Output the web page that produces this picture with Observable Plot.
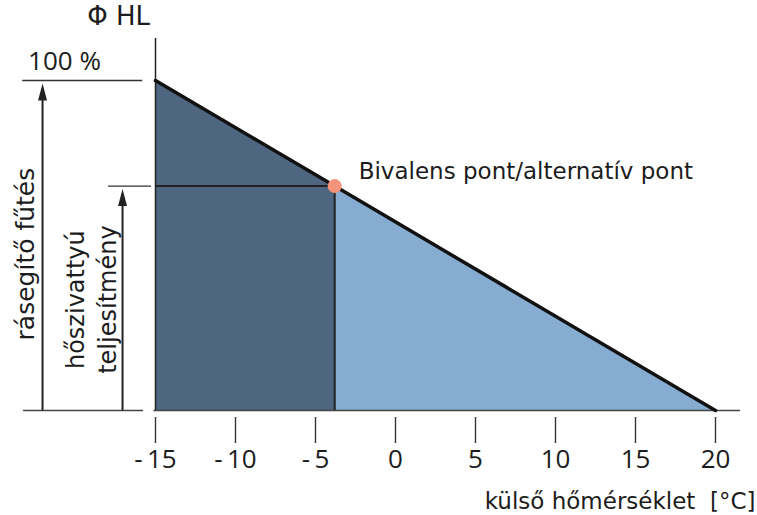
<!DOCTYPE html>
<html>
<head>
<meta charset="utf-8">
<script src="https://cdn.jsdelivr.net/npm/d3@7"></script>
<script src="https://cdn.jsdelivr.net/npm/@observablehq/plot@0.6"></script>
<style>
  html, body { margin: 0; padding: 0; background: #fff; }
  #chart svg { display: block; }
</style>
</head>
<body>
<div id="chart"></div>
<script>
// Data: outdoor temperature (°C) vs. heat load (% of design load)
const temps = [-15, -3.8, 20];
const loadPct = [100, 68, 0];
const bivalentIndex = 1;
const xTicks = [-15, -10, -5, 0, 5, 10, 15, 20];

// Texts
const yTitle = "Φ HL";
const topLabel = "100 %";
const pointLabel = "Bivalens pont/alternatív pont";
const auxLabel = "rásegítő fűtés";
const hpLabel = "hőszivattyú\nteljesítmény";
const xTitle = "külső hőmérséklet\u00a0 [°C]";

const rows = temps.map((t, i) => ({t, v: loadPct[i]}));
const darkPart = rows.slice(0, bivalentIndex + 1);
const lightPart = rows.slice(bivalentIndex);
const biv = rows[bivalentIndex];

const ink = "#1c1c1c";
const font = "'DejaVu Sans', sans-serif";
const numFont = "'Open Sans', sans-serif";

// filled, slender arrowhead (tip just below the anchor)
const arrowHead = {
  draw(ctx) {
    ctx.moveTo(0, 3);
    ctx.lineTo(4.5, 20);
    ctx.lineTo(-4.5, 20);
    ctx.closePath();
  }
};

const chart = Plot.plot({
  width: 757,
  height: 515,
  marginLeft: 155,
  marginRight: 42,
  marginTop: 80,
  marginBottom: 98,
  x: {domain: [-15, 20]},
  y: {domain: [0, 100], insetBottom: 7, axis: null},
  style: {fontFamily: font, color: ink, background: "#fff"},
  marks: [
    // areas
    Plot.areaY(darkPart, {x: "t", y: "v", fill: "#4e6680", curve: "linear"}),
    Plot.areaY(lightPart, {x: "t", y: "v", fill: "#86acd1", curve: "linear"}),
    // vertical axis line
    Plot.ruleX([-15], {y1: 0, y2: 112.7, stroke: "#222", strokeWidth: 1.5}),
    // baseline
    Plot.ruleY([0], {x1: -15.1, x2: 21.56, stroke: "#444", strokeWidth: 1.6}),
    Plot.ruleY([0], {x1: -23.25, x2: -15.75, stroke: "#444", strokeWidth: 1.6}),
    // 100% reference line
    Plot.ruleY([100], {x1: -23.3, x2: -15.8, stroke: "#333", strokeWidth: 1.4}),
    // bivalent guides
    Plot.ruleY([biv], {y: "v", x1: -17.94, x2: -15.25, stroke: "#333", strokeWidth: 1.4}),
    Plot.ruleY([biv], {y: "v", x1: -15, x2: "t", stroke: "#222", strokeWidth: 2}),
    Plot.ruleX([biv], {x: "t", y1: 0, y2: "v", stroke: "#222", strokeWidth: 2}),
    // heat load line
    Plot.line(rows, {x: "t", y: "v", stroke: "#111", strokeWidth: 3.5}),
    // bivalent point
    Plot.dot([biv], {x: "t", y: "v", r: 7, fill: "#f4937a", stroke: "none"}),
    Plot.text([pointLabel], {x: biv.t, y: biv.v, dx: 24, dy: -14.6, textAnchor: "start", fontSize: 23, fill: ink}),
    // arrows on the left
    Plot.ruleX([-22.06], {y1: 0, y2: 95, stroke: "#222", strokeWidth: 2}),
    Plot.dot([100], {x: -22.06, y: d => d, symbol: arrowHead, fill: "#222", stroke: "none"}),
    Plot.ruleX([-17.06], {y1: 0, y2: biv.v - 5, stroke: "#222", strokeWidth: 2}),
    Plot.dot([biv.v], {x: -17.06, y: d => d, symbol: arrowHead, fill: "#222", stroke: "none"}),
    // axis labels & annotations
    Plot.text([yTitle], {x: -17.3, y: 119.4, fontSize: 26, fill: ink}),
    Plot.text([topLabel], {x: -20.69, y: 105.8, fontSize: 26, fontFamily: numFont, fill: ink}),
    Plot.text([auxLabel], {x: -23.125, y: 47.4, rotate: -90, fontSize: 25, fill: ink}),
    Plot.text([hpLabel], {x: -19.1, y: 33.6, rotate: -90, fontSize: 24, lineHeight: 1.333, fill: ink}),
    Plot.text([xTitle], {x: 22.5, y: -27.5, textAnchor: "end", fontSize: 23, fill: ink}),
    // x axis
    Plot.axisX(xTicks, {
      tickSize: 26,
      tickPadding: 6,
      fontSize: 26,
      fontFamily: numFont,
      stroke: "#333",
      strokeWidth: 1.4,
      fill: ink,
      label: null,
      tickFormat: d => d < 0 ? `-\u2009${-d}` : `${d}`
    })
  ]
});

document.getElementById("chart").appendChild(chart);
</script>
</body>
</html>
